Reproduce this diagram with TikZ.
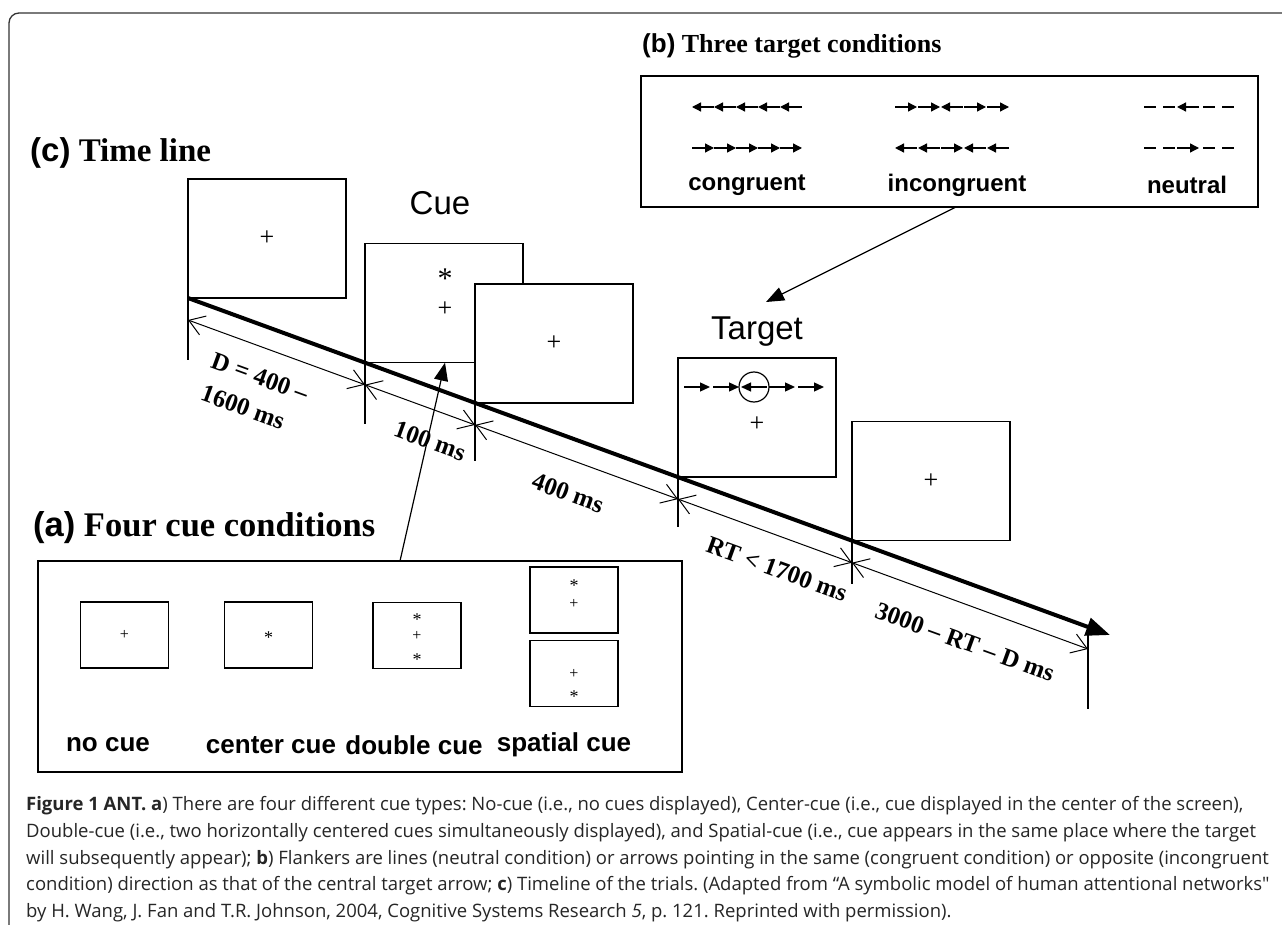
\documentclass[tikz,border=0pt]{standalone}
\usepackage{fontspec}
\setmainfont{Liberation Serif}
\newfontfamily\arialf{Liberation Sans}
\newfontfamily\capf{Open Sans}
\usetikzlibrary{arrows.meta}
\newcommand\fs[1]{\fontsize{#1}{#1}\selectfont}
\newcommand\flkR[2]{\draw[flk] ({#1-11},#2) -- ({#1+11},#2);}
\newcommand\flkL[2]{\draw[flk] ({#1+11},#2) -- ({#1-11},#2);}
\newcommand\flkD[2]{\draw[flkdash] ({#1-6},#2) -- ({#1+6},#2);}
\newcommand\flkTR[2]{\draw[flkt] ({#1-13},#2) -- ({#1+13},#2);}
\newcommand\flkTL[2]{\draw[flkt] ({#1+13},#2) -- ({#1-13},#2);}
\begin{document}
\begin{tikzpicture}[x=1pt,y=-1pt,
  scr/.style={draw,line width=1.3pt,fill=white,minimum width=158pt,minimum height=119pt,inner sep=0pt,outer sep=0pt,anchor=south west},
  sscr/.style={draw,line width=1.2pt,fill=white,minimum width=88pt,minimum height=66pt,inner sep=0pt,outer sep=0pt},
  panel/.style={draw,line width=1.4pt,inner sep=0pt,outer sep=0pt,anchor=north west},
  ttl/.style={anchor=west,inner sep=0pt,font=\fs{33}\bfseries},
  lbl/.style={inner sep=0pt,font=\arialf\bfseries\fs{26}},
  lblb/.style={inner sep=0pt,font=\arialf\bfseries\fs{24}},
  big/.style={inner sep=0pt,font=\arialf\fs{33}},
  dimlbl/.style={inner sep=0pt,font=\bfseries\fs{25},rotate=-20},
  pls/.style={inner sep=0pt,font=\fs{26}},
  spls/.style={inner sep=0pt,font=\fs{16}},
  ast/.style={inner sep=0pt,font=\fs{30}},
  sast/.style={inner sep=0pt,font=\fs{18}},
  tline/.style={line width=4pt,-{Triangle[length=24pt,width=18pt]}},
  ticky/.style={line width=1.2pt},
  dimarr/.style={line width=1pt,{Straight Barb[length=15pt,width=20pt,line width=1pt]}-{Straight Barb[length=15pt,width=20pt,line width=1pt]}},
  flk/.style={line width=1.3pt,-{Triangle[length=9pt,width=9pt]}},
  flkt/.style={line width=1.3pt,-{Triangle[length=10pt,width=9pt]}},
  flkdash/.style={line width=1.3pt},
  conn/.style={line width=1.2pt,-{Triangle[length=18pt,width=14pt]}},
  capl/.style={anchor=west,inner sep=0pt,font=\capf\fs{18.5}\frenchspacing,text=black!85}
]
\useasboundingbox (0,0) rectangle (1282,925);
\fill[white] (0,0) rectangle (1282,925);
% frame
\draw[line width=1.3pt,black!80,rounded corners=10pt] (9,926) -- (9,13) -- (1283,13);

% titles
\node[ttl] (tc) at (30,153) {{\arialf (c)} Time line};
\node[ttl,font=\fs{26}\bfseries] (tbt) at (642,46) {{\arialf (b)} Three target conditions};
\node[ttl,font=\fs{34.5}\bfseries] (tat) at (33,528) {{\arialf (a)} Four cue conditions};

% panel b
\node[panel,minimum width=617pt,minimum height=131pt] (boxb) at (641,76) {};
\foreach \c in {703,725,747,769,791} {\flkL{\c}{107}}
\foreach \c in {703,725,747,769,791} {\flkR{\c}{148}}
\flkR{906}{107}\flkR{929}{107}\flkL{952}{107}\flkR{975}{107}\flkR{998}{107}
\flkL{906}{148}\flkL{929}{148}\flkR{952}{148}\flkL{975}{148}\flkL{998}{148}
\flkD{1150}{107}\flkD{1169}{107}\flkL{1188}{107}\flkD{1209}{107}\flkD{1228}{107}
\flkD{1150}{148}\flkD{1169}{148}\flkR{1188}{148}\flkD{1209}{148}\flkD{1228}{148}
\node[lblb] (lcon) at (747,185) {congruent};
\node[lblb] (linc) at (957,185) {incongruent};
\node[lblb] (lneu) at (1187,185) {neutral};

% panel a
\node[panel,minimum width=644pt,minimum height=211pt] (boxa) at (38,561) {};
\node[sscr] (sb1) at (124.5,635) {};
\node[sscr] (sb2) at (268.5,635) {};
\node[sscr] (sb3) at (417,635.5) {};
\node[sscr] (sp1) at (574,600) {};
\node[sscr] (sp2) at (574,673.5) {};
\node[spls] at (sb1.center) {+};
\node[sast] at (268.5,637.5) {*};
\node[sast] at (417,619.5) {*};
\node[spls] at (417,635.5) {+};
\node[sast] at (417,659.5) {*};
\node[sast] at (574,585.5) {*};
\node[spls] at (574,604) {+};
\node[spls] at (574,674) {+};
\node[sast] at (574,696.5) {*};
\node[lbl] (lno) at (108,745) {no cue};
\node[lbl] (lce) at (271,745) {center cue};
\node[lbl] (ldo) at (414,745) {double cue};
\node[lbl] (lsp) at (564,745) {spatial cue};

% time line screens
\node[scr] (b1) at (188,298) {};
\node[pls] at (b1.center) {+};
\node[big] (cue) at (440,203) {Cue};
\node[scr] (b2) at (365,362.7) {};
\node[ast] at (445,279) {*};
\node[pls] at (445,309) {+};
\node[scr] (b3) at (475,402.9) {};
\node[pls] at (b3.center) {+};
\node[big] (tgt) at (757,332) {Target};
\node[scr] (tb) at (678,477.1) {};
\flkTR{697}{387}\flkTR{726}{387}\flkTL{754}{387}\flkTR{782}{387}\flkTR{811}{387}
\node[circle,draw,line width=1.2pt,minimum size=30pt,inner sep=0pt] (tcirc) at (754,387) {};
\node[pls] at (757,424) {+};
\node[scr] (b5) at (852,540.7) {};
\node[pls] at (b5.center) {+};

% time line
\coordinate (tlend) at (1110,635);
\draw[tline] (b1.south west) -- (tlend);
\draw[ticky] (b1.south west) -- ++(0,62);
\draw[ticky] (b2.south west) -- ++(0,61);
\draw[ticky] (b3.south west) -- ++(0,58);
\draw[ticky] (tb.south west) -- ++(0,50);
\draw[ticky] (b5.south west) -- ++(0,43);
\coordinate (e0) at (1088,627);
\draw[ticky] (e0) -- ++(0,82);
\coordinate (d0) at (188,320);
\coordinate (d1) at (365,384.7);
\coordinate (d2) at (475,424.9);
\coordinate (d3) at (678,499.1);
\coordinate (d4) at (852,562.7);
\coordinate (d5) at (1088,649);
\draw[dimarr] (d0) -- (d1);
\draw[dimarr] (d1) -- (d2);
\draw[dimarr] (d2) -- (d3);
\draw[dimarr] (d3) -- (d4);
\draw[dimarr] (d4) -- (d5);
\node[dimlbl] (l1a) at (260,377) {D = 400 –};
\node[dimlbl] (l1b) at (243,407) {1600 ms};
\node[dimlbl] (l2) at (430,441) {100 ms};
\node[dimlbl] (l3) at (568,493) {400 ms};
\node[dimlbl] (l4) at (777,569) {RT < 1700 ms};
\node[dimlbl] (l5) at (965,642) {3000 – RT – D ms};

% connectors
\draw[conn] ([xshift=362pt]boxa.north west) -- ([xshift=80pt]b2.south west);
\coordinate (tgtip) at (766,302);
\draw[conn] ([xshift=315pt]boxb.south west) -- (tgtip);

% caption
\node[capl] (c1) at (26,806) {{\bfseries Figure 1 ANT. a}) There are four different cue types: No-cue (i.e., no cues displayed), Center-cue (i.e., cue displayed in the center of the screen),};
\node[capl] (c2) at (26,833) {Double-cue (i.e., two horizontally centered cues simultaneously displayed), and Spatial-cue (i.e., cue appears in the same place where the target};
\node[capl] (c3) at (26,860) {will subsequently appear); {\bfseries b}) Flankers are lines (neutral condition) or arrows pointing in the same (congruent condition) or opposite (incongruent};
\node[capl] (c4) at (26,886) {condition) direction as that of the central target arrow; {\bfseries c}) Timeline of the trials. (Adapted from “A symbolic model of human attentional networks"};
\node[capl] (c5) at (26,913) {by H. Wang, J. Fan and T.R. Johnson, 2004, Cognitive Systems Research {\itshape 5}, p. 121. Reprinted with permission).};
\end{tikzpicture}
\end{document}
